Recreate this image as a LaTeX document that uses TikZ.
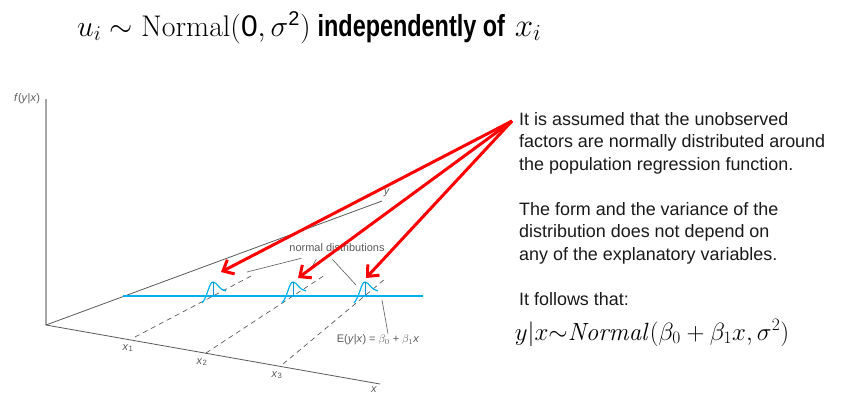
\RequirePackage{fix-cm}
\documentclass[tikz,border=0pt]{standalone}
\usepackage[no-math]{fontspec}
\setmainfont{Liberation Sans}
\usepackage{tikz}
\usetikzlibrary{arrows.meta}
\tikzset{>={Straight Barb[length=9bp,width=16bp]}}
\definecolor{axisgray}{HTML}{595959}
\definecolor{zgray}{HTML}{A6A6A6}
\definecolor{bellcyan}{HTML}{00B0F0}
\definecolor{belldark}{HTML}{1A8FD0}

\begin{document}
\begin{tikzpicture}[x=1bp, y=-1bp,
    axisline/.style={axisgray, line width=0.8bp},
    guide/.style={axisgray, line width=0.7bp, dash pattern=on 5bp off 4bp},
    bell/.style={bellcyan, line width=1.2bp},
    leader/.style={axisgray, line width=0.6bp},
    figlabel/.style={text=axisgray, inner sep=1bp, font=\fontsize{11}{13}\selectfont},
    para/.style={align=left, inner sep=0pt, text=black!90, font=\fontsize{18}{22.7}\selectfont},
    redarrow/.style={->, red, line width=3bp}]
    \useasboundingbox (0,0) rectangle (850,402);

    % title
    \node[inner sep=0pt, anchor=base west] (title) at (77,36) {\fontsize{30}{34}\selectfont $u_i\sim\mathrm{Normal}(\mbox{0},\sigma^{\mbox{\fontsize{20}{22}\selectfont 2}})$\hspace{7bp}\scalebox{1}[1.3]{\fontsize{23.5}{26}\selectfont\bfseries independently of}\hspace{10bp}{\fontsize{33}{36}\selectfont$x_i$}};

    % axes
    \coordinate (O) at (46,325);
    \coordinate (ztop) at (46,99);
    \coordinate (yend) at (382,201);
    \coordinate (xend) at (380,384);
    \draw[zgray, line width=1.2bp] (O) -- (ztop);
    \draw[axisline] (O) -- (yend);
    \draw[axisline] (O) -- (xend);
    \node[figlabel] (fyx) at (27,99) {\textit{f}(\textit{y}|\textit{x})};
    \node[figlabel] (ylab) at (387,193) {\textit{y}};
    \node[figlabel] (xlab) at (374,390) {\textit{x}};
    \node[figlabel] (lx1) at (128,348) {\textit{x}\textsubscript{1}};
    \node[figlabel] (lx2) at (202,362) {\textit{x}\textsubscript{2}};
    \node[figlabel] (lx3) at (277,375) {\textit{x}\textsubscript{3}};

    % dashed guides from x_1, x_2, x_3
    \coordinate (x1) at (135,337);
    \coordinate (x2) at (206,353);
    \coordinate (x3) at (283,364);
    \coordinate (d1) at (253,275);
    \coordinate (d2) at (325,275);
    \coordinate (d3) at (385,279);
    \draw[guide] (x1) -- (d1);
    \draw[guide] (x2) -- (d2);
    \draw[guide] (x3) -- (d3);

    % regression line
    \coordinate (r0) at (123,296);
    \coordinate (r1) at (423,296);
    \draw[bell] (r0) -- (r1);

    % normal densities
    \foreach \px in {213,293,365}{
        \draw[bell] (\px-11,303) .. controls (\px-5,296) and (\px-4,282) .. (\px,282)
            .. controls (\px+4,282) and (\px+6,290) .. (\px+13,291);
        \draw[belldark, line width=1bp] (\px,282) -- (\px,296);
    }

    % labels in the figure
    \node[figlabel] (nd) at (337,248) {normal distributions};
    \coordinate (n1) at (247,272);
    \coordinate (n2) at (312,267);
    \coordinate (n3) at (356,285);
    \draw[leader] ([xshift=13bp,yshift=-5bp]nd.south west) -- (n1);
    \draw[leader] ([xshift=28bp,yshift=-6bp]nd.south west) -- (n2);
    \draw[leader] ([xshift=44bp,yshift=-6bp]nd.south west) -- (n3);
    \node[figlabel] (el) at (378,340) {E(\textit{y}|\textit{x}) = $\beta_0$ + $\beta_1$\textit{x}};
    \coordinate (e1) at (382,300);
    \draw[leader] ([xshift=10bp]el.north) -- (e1);

    % red arrows
    \coordinate (src) at (512,121);
    \coordinate (t1) at (221,272);
    \coordinate (t2) at (298,278);
    \coordinate (t3) at (366,278);
    \draw[redarrow] (src) -- (t1);
    \draw[redarrow] (src) -- (t2);
    \draw[redarrow] (src) -- (t3);

    % text on the right
    \node[para, anchor=north west] (p1) at (519,112) {It is assumed that the unobserved\\factors are normally distributed around\\the population regression function.};
    \node[para, anchor=north west] (p2) at (519,202) {The form and the variance of the\\distribution does not depend on\\any of the explanatory variables.};
    \node[para, anchor=north west] (p3) at (519,292) {It follows that:};
    \node (form) at (652,333) {\fontsize{25}{28}\selectfont $y|x{\sim}\mathit{Normal}(\beta_0+\beta_1x,\sigma^2)$};
\end{tikzpicture}
\end{document}
